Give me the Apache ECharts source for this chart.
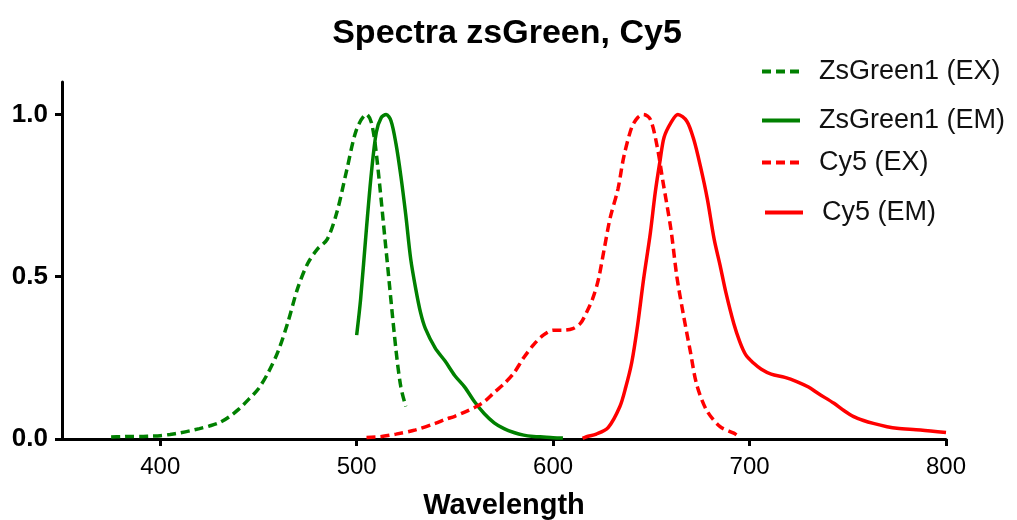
<!DOCTYPE html>
<html>
<head>
<meta charset="utf-8">
<script src="https://cdn.jsdelivr.net/npm/echarts@6/dist/echarts.min.js"></script>
<style>
  html, body { margin: 0; padding: 0; background: #fff; }
  #chart { width: 1017px; height: 520px; }
</style>
</head>
<body>
<div id="chart"></div>
<script>
// [wavelength, normalised intensity]
var zsGreenEx = [[375,0.006],[380,0.007],[385,0.008],[390,0.008],[395,0.009],[400,0.01],[405,0.014],[410,0.019],[415,0.025],[420,0.032],[425,0.04],[430,0.05],[435,0.068],[440,0.092],[445,0.122],[450,0.155],[455,0.205],[460,0.27],[465,0.36],[470,0.465],[475,0.54],[480,0.585],[485,0.615],[490,0.7],[495,0.83],[500,0.955],[505,1.0],[507.5,0.975],[510,0.88],[515,0.58],[520,0.275],[522.5,0.16],[525,0.1]];
var zsGreenEm = [[500,0.32],[502,0.43],[505,0.65],[507.5,0.82],[510,0.945],[512.5,0.99],[515,1.0],[517.5,0.98],[520,0.91],[522.5,0.81],[525,0.69],[527.5,0.555],[530,0.465],[532.5,0.39],[535,0.34],[540,0.28],[545,0.24],[550,0.195],[555,0.16],[560,0.115],[565,0.078],[570,0.05],[575,0.032],[580,0.02],[585,0.012],[590,0.008],[595,0.006],[600,0.004],[605,0.003]];
var cy5Ex = [[505,0.005],[512,0.007],[520,0.015],[530,0.028],[540,0.048],[545,0.06],[550,0.07],[555,0.083],[560,0.097],[565,0.115],[570,0.143],[575,0.17],[580,0.203],[585,0.25],[590,0.29],[595,0.32],[600,0.335],[605,0.335],[610,0.34],[614,0.357],[617,0.39],[620,0.43],[623,0.49],[626,0.585],[629,0.68],[633,0.77],[636,0.87],[640,0.96],[643,0.99],[646,1.0],[649.5,0.985],[653,0.9],[656,0.79],[660,0.645],[663,0.5],[666.5,0.377],[670,0.265],[673,0.17],[678,0.09],[685,0.038],[692,0.018],[694,0.01]];
var cy5Em = [[615,0.002],[617,0.007],[622,0.015],[628,0.035],[634,0.1],[637,0.16],[640,0.235],[643,0.35],[646,0.49],[649.5,0.635],[652,0.76],[654.5,0.86],[656.5,0.93],[660,0.975],[663.5,1.0],[668,0.98],[671.5,0.925],[675,0.84],[678.5,0.74],[682,0.615],[685,0.535],[688,0.45],[692,0.355],[695,0.3],[698,0.26],[702,0.234],[706,0.215],[711,0.2],[718,0.19],[724,0.177],[730,0.16],[735,0.14],[743,0.11],[748,0.088],[753,0.069],[758,0.057],[763,0.048],[770,0.038],[775,0.033],[787,0.028],[800,0.02]];

var seriesNames = ['ZsGreen1 (EX)', 'ZsGreen1 (EM)', 'Cy5 (EX)', 'Cy5 (EM)'];
var xTicks = [400, 500, 600, 700, 800];
var yTicks = [0, 0.5, 1.0];

var GREEN = '#008000';
var RED = '#ff0000';
var FONT = 'Liberation Sans, Arial, sans-serif';

var chart = echarts.init(document.getElementById('chart'));

function line(name, data, color, dashed) {
  return {
    name: name,
    type: 'line',
    data: data,
    symbol: 'none',
    smooth: 0.3,
    animation: false,
    lineStyle: { color: color, width: 3.5, type: dashed ? [9, 5] : 'solid' },
    itemStyle: { color: color }
  };
}

// one legend per entry, the original spaces them unevenly
function legendItem(name, left, top) {
  return {
    data: [name],
    left: left,
    top: top,
    itemWidth: 38,
    itemHeight: 14,
    itemStyle: { opacity: 0 },
    lineStyle: { width: 4 },
    textStyle: { fontFamily: FONT, fontSize: 27, color: '#111', padding: [0, 0, 0, 14] }
  };
}

chart.setOption({
  backgroundColor: '#fff',
  title: {
    text: 'Spectra zsGreen, Cy5',
    left: 502,
    textAlign: 'center',
    top: 12,
    textStyle: { fontFamily: FONT, fontSize: 34, fontWeight: 'bold', color: '#000' }
  },
  legend: [
    legendItem(seriesNames[0], 755, 53),
    legendItem(seriesNames[1], 755, 102),
    legendItem(seriesNames[2], 755, 144),
    legendItem(seriesNames[3], 758, 194)
  ],
  grid: { left: 62, right: 71, top: 82, bottom: 81, outerBoundsMode: 'none' },
  xAxis: {
    type: 'value',
    min: 350,
    max: 800,
    name: 'Wavelength',
    nameLocation: 'middle',
    nameGap: 52,
    nameTextStyle: { fontFamily: FONT, fontSize: 29, fontWeight: 'bold', color: '#000' },
    splitLine: { show: false },
    axisLine: { lineStyle: { color: '#000', width: 3 } },
    axisTick: { customValues: xTicks, length: 7, lineStyle: { color: '#000', width: 3 } },
    axisLabel: { customValues: xTicks, margin: 16, fontFamily: FONT, fontSize: 24, color: '#000' }
  },
  yAxis: {
    type: 'value',
    min: 0,
    max: 1.1,
    splitLine: { show: false },
    axisLine: { show: true, lineStyle: { color: '#000', width: 3 } },
    axisTick: { show: true, customValues: yTicks, length: 7, lineStyle: { color: '#000', width: 3 } },
    axisLabel: {
      customValues: yTicks,
      margin: 14,
      fontFamily: FONT,
      fontSize: 26,
      fontWeight: 'bold',
      color: '#000',
      formatter: function (v) { return v.toFixed(1); }
    }
  },
  series: [
    line(seriesNames[0], zsGreenEx, GREEN, true),
    line(seriesNames[1], zsGreenEm, GREEN, false),
    line(seriesNames[2], cy5Ex, RED, true),
    line(seriesNames[3], cy5Em, RED, false)
  ]
});
window.onresize = function () { chart.resize(); };
</script>
</body>
</html>
